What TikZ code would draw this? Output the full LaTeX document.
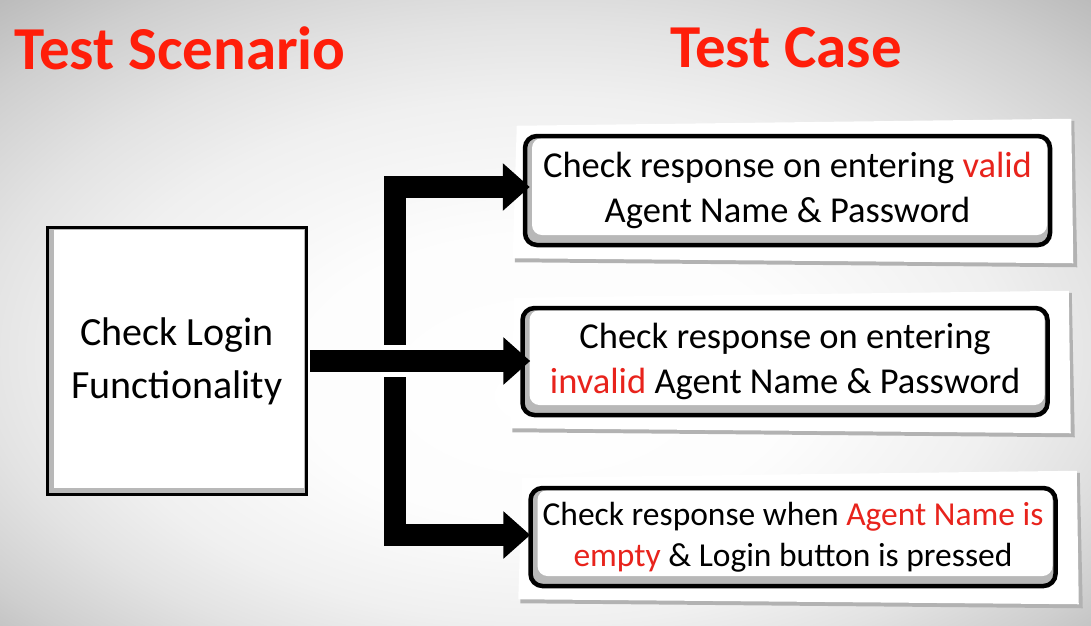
\documentclass[tikz,border=0pt]{standalone}
\usepackage{fontspec}
\setmainfont{Carlito}
\usetikzlibrary{arrows.meta,calc}
\definecolor{tred}{HTML}{FF1E0A}
\definecolor{wred}{HTML}{E8231C}
\pgfdeclareradialshading{bgshade}{\pgfpoint{0bp}{-7bp}}{color(0bp)=(white); color(12bp)=(white!99!black); color(21bp)=(black!6); color(26bp)=(black!11); color(32bp)=(black!19); color(39bp)=(black!31); color(45bp)=(black!34)}
\pgfdeclarelayer{background}
\pgfsetlayers{background,main}
\newcommand\paperbehind[1]{%
  \fill[black!30] ($(#1.north west)+(-5,-6)$) -- ($(#1.north east)+(22,-13)$) -- ($(#1.south east)+(25,20)$) -- ($(#1.south west)+(-8,15)$) -- cycle;
  \fill[white] ($(#1.north west)+(-6,-8)$) -- ($(#1.north east)+(19,-15)$) -- ($(#1.south east)+(21,16)$) -- ($(#1.south west)+(-10,11)$) -- cycle;}
\begin{document}
\begin{tikzpicture}[x=1pt,y=-1pt,
  title/.style={text=tred, font=\bfseries\fontsize{61}{61}\selectfont, inner sep=0pt},
  scenbox/.style={draw=black, line width=3pt, fill=white, minimum width=259pt, minimum height=267pt,
    align=center, font=\fontsize{40}{53}\selectfont, inner sep=0pt,
    path picture={\fill[black!28] (path picture bounding box.south west) rectangle (path picture bounding box.north east);
      \fill[white] ([xshift=6pt,yshift=7pt]path picture bounding box.south west) rectangle ([xshift=-3pt,yshift=-2pt]path picture bounding box.north east);}},
  casebox/.style={draw=black, line width=4.5pt, rounded corners=12pt, fill=white, minimum width=525pt,
    align=center, font=\fontsize{36.5}{45}\selectfont, inner sep=0pt,
    path picture={\fill[black!28] (path picture bounding box.south west) rectangle (path picture bounding box.north east);
      \fill[white, rounded corners=10pt] ([xshift=7pt,yshift=10pt]path picture bounding box.south west) rectangle ([xshift=-3pt,yshift=-2pt]path picture bounding box.north east);}},
  bar/.style={line width=22pt, line join=miter, draw=black}
]
\useasboundingbox (0,0) rectangle (1091,625);
\begin{pgfonlayer}{background}
  \shade[shading=bgshade] (0,0) rectangle (1091,625);
\end{pgfonlayer}

\node[title, anchor=west] (t1) at (14,48) {Test Scenario};
\node[title] (t2) at (786,48) {Test Case};

\node[scenbox] (scen) at (177,361) {Check Login\\Functionality};

\node[casebox, minimum height=109pt] (tc1) at (787.5,190.5) {Check response on entering \textcolor{wred}{valid}\\Agent Name \& Password};
\node[casebox, minimum height=107pt] (tc2) at (785,361.5) {Check response on entering\\\textcolor{wred}{invalid} Agent Name \& Password};
\node[casebox, minimum height=98pt, font=\fontsize{33.5}{41}\selectfont] (tc3) at (793,537) {Check response when \textcolor{wred}{Agent Name is}\\\textcolor{wred}{empty} \& Login button is pressed};

\begin{pgfonlayer}{background}
  \paperbehind{tc1}
  \paperbehind{tc2}
  \paperbehind{tc3}
\end{pgfonlayer}

\coordinate (jt) at (395,187);
\coordinate (jb) at (395,535);
\coordinate (jm) at (jt |- scen.east);

\draw[bar, {Triangle[length=27pt,width=46pt]}-{Triangle[length=27pt,width=46pt]}]
  ([xshift=7pt]tc1.west |- jt) -- (jt) -- (jb) -- ([xshift=2pt]tc3.west |- jb);
\draw[white, line width=32pt] ([xshift=-14pt]jm) -- ([xshift=14pt]jm);
\draw[bar, -{Triangle[length=27pt,width=46pt]}] ([xshift=2pt]scen.east) -- ([xshift=10pt]tc2.west |- scen.east);
\end{tikzpicture}
\end{document}
